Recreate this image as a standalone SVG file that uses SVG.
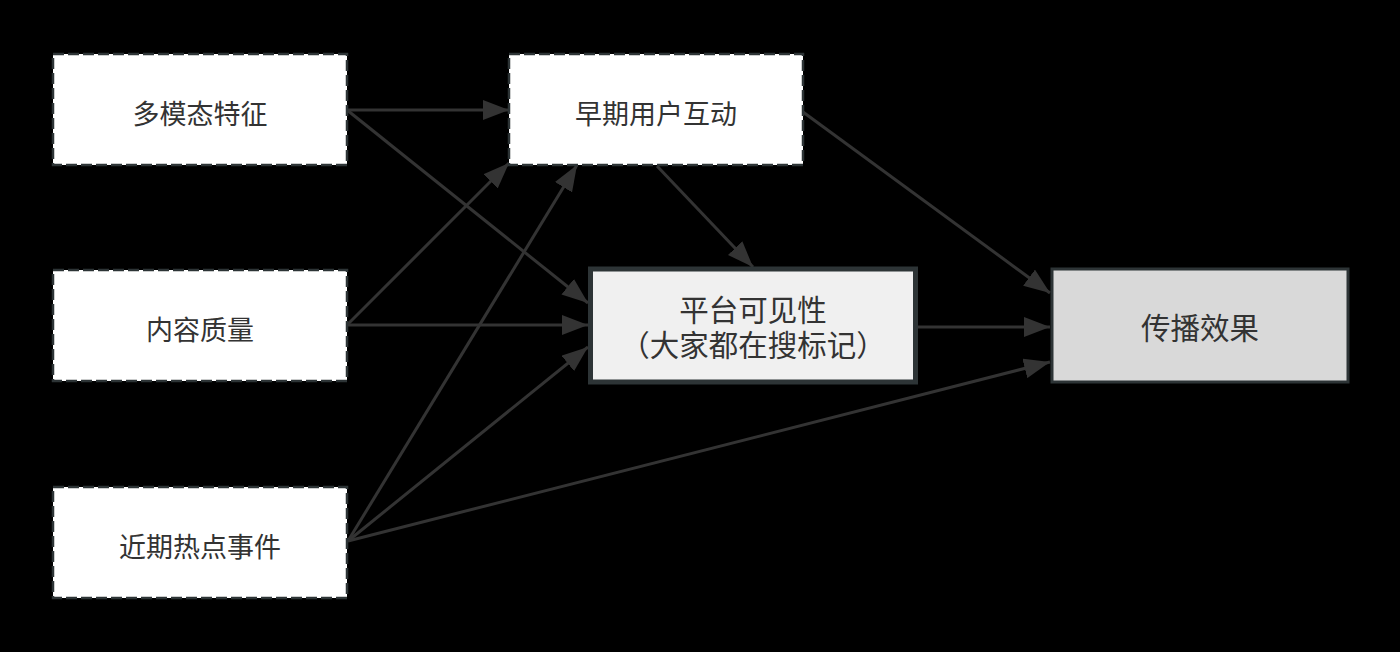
<svg xmlns="http://www.w3.org/2000/svg" width="1400" height="652" viewBox="0 0 1400 652">
<defs>
<style>
.dash{fill:#ffffff;stroke:#2d3436;stroke-width:2.5;stroke-dasharray:11 4;}
.lbl{font-family:"Noto Sans CJK SC","Noto Sans",sans-serif;font-size:27px;fill:#333333;text-anchor:middle;}
.big{font-size:29.5px;}
.edge{fill:none;stroke:#333333;stroke-width:3;}
</style>
<marker id="arr" markerUnits="userSpaceOnUse" markerWidth="26" markerHeight="20" refX="26" refY="10" orient="auto">
<path d="M0,0 L26,10 L0,20 z" fill="#333333"/>
</marker>
</defs>
<rect x="0" y="0" width="1400" height="652" fill="#000000"/>
<g id="connectors">
<line class="edge" x1="347" y1="110" x2="509" y2="110" marker-end="url(#arr)"/>
<line class="edge" x1="347" y1="110" x2="588" y2="303" marker-end="url(#arr)"/>
<line class="edge" x1="347" y1="325" x2="509" y2="163" marker-end="url(#arr)"/>
<line class="edge" x1="347" y1="325" x2="588" y2="325" marker-end="url(#arr)"/>
<line class="edge" x1="348" y1="541" x2="577" y2="165" marker-end="url(#arr)"/>
<line class="edge" x1="348" y1="541" x2="588" y2="347" marker-end="url(#arr)"/>
<line class="edge" x1="348" y1="541" x2="1050" y2="362" marker-end="url(#arr)"/>
<line class="edge" x1="657" y1="166" x2="753" y2="267" marker-end="url(#arr)"/>
<line class="edge" x1="803" y1="112" x2="1050" y2="293" marker-end="url(#arr)"/>
<line class="edge" x1="918" y1="327" x2="1050" y2="327" marker-end="url(#arr)"/>
</g>
<g id="node-duomotai">
<rect class="dash" x="53" y="54" width="294" height="111"/>
<text class="lbl" x="200" y="123.5">多模态特征</text>
</g>
<g id="node-zaoqi">
<rect class="dash" x="509" y="54" width="294" height="111"/>
<text class="lbl" x="656" y="123.5">早期用户互动</text>
</g>
<g id="node-neirong">
<rect class="dash" x="53" y="270" width="294" height="111"/>
<text class="lbl" x="200" y="339.5">内容质量</text>
</g>
<g id="node-jinqi">
<rect class="dash" x="53" y="487" width="294" height="111"/>
<text class="lbl" x="200" y="556.5">近期热点事件</text>
</g>
<g id="node-pingtai">
<rect x="590.5" y="269" width="325" height="113" fill="#f0f0f0" stroke="#2d3436" stroke-width="5"/>
<text class="lbl big" x="753" y="321"><tspan x="753" y="321">平台可见性</tspan><tspan x="753" y="356">（大家都在搜标记）</tspan></text>
</g>
<g id="node-chuanbo">
<rect x="1052" y="269" width="296" height="113" fill="#d9d9d9" stroke="#2d3436" stroke-width="3"/>
<text class="lbl big" x="1200" y="339">传播效果</text>
</g>
</svg>
